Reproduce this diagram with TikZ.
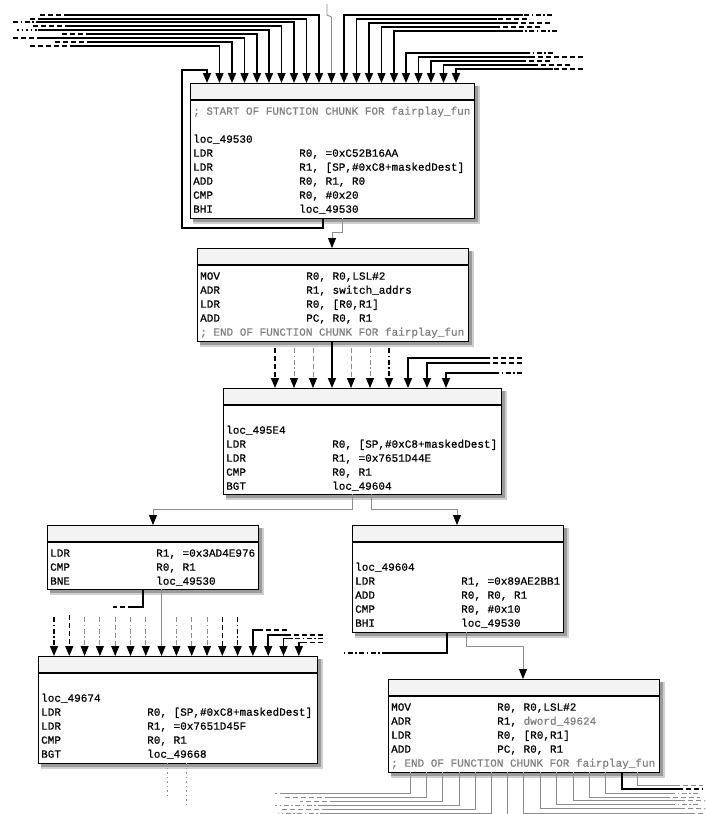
\documentclass[tikz,border=0pt]{standalone}
\usepackage{fontspec}
\setmonofont[FakeBold=0.6]{Liberation Mono}
\usetikzlibrary{arrows.meta}
\definecolor{edgegray}{HTML}{8C8C8C}
\definecolor{hdrgray}{HTML}{F3F3F3}
\definecolor{cmtgray}{HTML}{7F7F7F}
\definecolor{shdA}{HTML}{9A9A9A}
\definecolor{shdB}{HTML}{CFCFCF}
\tikzset{
  blk/.style={draw=black, fill=white, line width=0.8pt, inner sep=0pt, outer sep=0pt, anchor=north west},
  code/.style={font=\ttfamily\fontsize{11}{14}\selectfont, inner sep=0pt, anchor=north west, text=black},
  thk/.style={draw=black, line width=1.6pt},
  thn/.style={draw=edgegray, line width=0.9pt},
  tip/.style={-{Triangle[width=8pt,length=10pt,color=black]}},
  dA/.style={dash pattern=on 5pt off 3pt},
  dB/.style={dash pattern=on 5pt off 2.5pt on 1.5pt off 2.5pt},
  dC/.style={dash pattern=on 1.5pt off 3pt},
}
\newcommand\codebox[6]{%
  \fill[shdB] (#2+3,#3+3) rectangle (#4+6,#5+6);
  \fill[shdA] (#2+3,#3+3) rectangle (#4+4,#5+4);
  \node[blk, minimum width=#4pt-#2pt, minimum height=#5pt-#3pt] (#1) at (#2,#3) {};
  \fill[hdrgray] (#2,#3) rectangle (#4,#6);
  \draw[line width=1.6pt] (#2,#6) -- (#4,#6);
  \draw[line width=0.8pt] (#2,#3) rectangle (#4,#5);
}
\begin{document}
\begin{tikzpicture}[x=1pt,y=-1pt]
\fill[white] (0,0) rectangle (705,814);
\useasboundingbox (0,0) rectangle (705,814);

% ---------- boxes ----------
\codebox{A}{190}{83}{474}{218}{100}
\codebox{B}{197}{248}{468}{341}{265}
\codebox{C}{223}{388}{501}{494}{405}
\codebox{D}{47}{525}{258}{589}{542}
\codebox{E}{352}{525}{563}{632}{542}
\codebox{F}{38}{656}{317}{763}{673}
\codebox{G}{388}{679}{659}{772}{696}

\node[code] (At) at (193,104.7) {\begin{tabular}{@{}p{106pt}@{}l@{}}
\multicolumn{2}{@{}l@{}}{\color{cmtgray}; START OF FUNCTION CHUNK FOR fairplay\_fun}\\
\mbox{}\\
loc\_49530\\
LDR & R0, =0xC52B16AA\\
LDR & R1, [SP,\#0xC8+maskedDest]\\
ADD & R0, R1, R0\\
CMP & R0, \#0x20\\
BHI & loc\_49530
\end{tabular}};

\node[code] (Bt) at (200,269.7) {\begin{tabular}{@{}p{106pt}@{}l@{}}
MOV & R0, R0,LSL\#2\\
ADR & R1, switch\_addrs\\
LDR & R0, [R0,R1]\\
ADD & PC, R0, R1\\
\multicolumn{2}{@{}l@{}}{\color{cmtgray}; END OF FUNCTION CHUNK FOR fairplay\_fun}
\end{tabular}};

\node[code] (Ct) at (226,409.7) {\begin{tabular}{@{}p{106pt}@{}l@{}}
\mbox{}\\
loc\_495E4\\
LDR & R0, [SP,\#0xC8+maskedDest]\\
LDR & R1, =0x7651D44E\\
CMP & R0, R1\\
BGT & loc\_49604
\end{tabular}};

\node[code] (Dt) at (50,546.7) {\begin{tabular}{@{}p{106pt}@{}l@{}}
LDR & R1, =0x3AD4E976\\
CMP & R0, R1\\
BNE & loc\_49530
\end{tabular}};

\node[code] (Et) at (355,546.7) {\begin{tabular}{@{}p{106pt}@{}l@{}}
\mbox{}\\
loc\_49604\\
LDR & R1, =0x89AE2BB1\\
ADD & R0, R0, R1\\
CMP & R0, \#0x10\\
BHI & loc\_49530
\end{tabular}};

\node[code] (Ft) at (41,677.7) {\begin{tabular}{@{}p{106pt}@{}l@{}}
\mbox{}\\
loc\_49674\\
LDR & R0, [SP,\#0xC8+maskedDest]\\
LDR & R1, =0x7651D45F\\
CMP & R0, R1\\
BGT & loc\_49668
\end{tabular}};

\node[code] (Gt) at (391,700.7) {\begin{tabular}{@{}p{106pt}@{}l@{}}
MOV & R0, R0,LSL\#2\\
ADR & R1, {\color{cmtgray}dword\_49624}\\
LDR & R0, [R0,R1]\\
ADD & PC, R0, R1\\
\multicolumn{2}{@{}l@{}}{\color{cmtgray}; END OF FUNCTION CHUNK FOR fairplay\_fun}
\end{tabular}};

% ---------- edges into A ----------
\draw[thk,tip] ([xshift=133pt]A.south west) -- ++(0,10) -| (182,70) -| ([xshift=17pt]A.north west);
\coordinate (topg) at (327,4);
\draw[thn,tip] (topg) -- (327,15) -- (331.5,17) -- (331.5,0 |- A.north);
\foreach \xa/\yy/\xs/\xe/\ds [count=\k] in {219.5/46/70/30/dA, 232/42/90/55/dA, 244.5/38/38/13/dA, 257/34/88/62/dA, 269/30/38/17/dC, 281.5/26/70/33/dA, 294/22/37/13/dB, 306.5/19/38/30/dA, 319/15/67/40/dA}{
  \coordinate (tl\k) at (\xe,\yy);
  \draw[thk,\ds] (tl\k) -- (\xs,\yy);
  \draw[thk,tip] (\xs,\yy) -| (\xa,0 |- A.north);
}
\foreach \xa/\yy/\xs/\xe/\ds [count=\k] in {344/15/523/552/dB, 356.5/19/497/527/dA, 369/23/517/550/dA, 381.5/27/498/540/dA, 394/31/522/557/dB, 406/53/530/553/dB, 418.5/57/530/583/dA, 431/61/523/550/dA, 443.5/65/537/570/dA, 456/69/553/583/dA}{
  \coordinate (tr\k) at (\xe,\yy);
  \draw[thk,\ds] (tr\k) -- (\xs,\yy);
  \draw[thk,tip] (\xs,\yy) -| (\xa,0 |- A.north);
}

% ---------- A -> B ----------
\draw[thn,tip] ([xshift=152pt]A.south west) -- ++(0,14) -| ([xshift=135pt]B.north west);

% ---------- into C ----------
\draw[thk,tip] ([xshift=135pt]B.south west) -- (332,0 |- C.north);
\foreach \xa/\st/\ds [count=\k] in {275/thk/dA, 294/thn/dB, 313/thn/dA, 351/thn/dA, 370/thn/dB, 389/thk/dB}{
  \coordinate (bc\k) at (\xa,348);
  \draw[\st,\ds,tip] (bc\k) -- (\xa,0 |- C.north);
}
\foreach \xa/\yy/\xs/\xe/\ds [count=\k] in {408/358/490/522/dA, 427/363/490/522/dA, 446/373/495/522/dB}{
  \coordinate (cr\k) at (\xe,\yy);
  \draw[thk,\ds] (cr\k) -- (\xs,\yy);
  \draw[thk,tip] (\xs,\yy) -| (\xa,0 |- C.north);
}

% ---------- C -> D, C -> E ----------
\draw[thn,tip] ([xshift=129pt]C.south west) -- ++(0,15) -| ([xshift=106pt]D.north west);
\draw[thn,tip] ([xshift=148pt]C.south west) -- ++(0,15) -| ([xshift=105pt]E.north west);

% ---------- D out ----------
\coordinate (dl) at (113,607);
\draw[thk] ([xshift=96pt]D.south west) |- (133,607);
\draw[thk,dA] (133,607) -- (dl);
\draw[thn,tip] ([xshift=114.5pt]D.south west) -- (161.5,0 |- F.north);

% ---------- into F ----------
\foreach \xa/\yy/\st/\ds [count=\k] in {54/617/thk/dB, 69.3/615/thk/dA, 84.6/617/thn/dB, 99.9/617/thn/dB, 115.2/617/thn/dA, 130.5/617/thn/dB, 145.8/617/thn/dB, 176.4/617/thn/dB, 191.7/617/thn/dA, 207/617/thn/dB, 222.3/617/thk/dA, 237.6/617/thk/dB}{
  \coordinate (fv\k) at (\xa,\yy);
  \draw[\st,\ds,tip] (fv\k) -- (\xa,0 |- F.north);
}
\foreach \xa/\yy/\xs/\xe/\ds [count=\k] in {252.9/630/262/287/dA, 268.2/635/290/323/dA, 283.5/638.5/293/323/dB, 298.8/642.5/305/323/dA}{
  \coordinate (fr\k) at (\xe,\yy);
  \draw[thk,\ds] (fr\k) -- (\xs,\yy);
  \draw[thk,tip] (\xs,\yy) -| (\xa,0 |- F.north);
}

% ---------- E out ----------
\coordinate (el) at (342,653);
\draw[thk] ([xshift=95pt]E.south west) |- (387,653);
\draw[thk,dB] (387,653) -- (el);
\draw[thn,tip] ([xshift=114pt]E.south west) -- ++(0,14) -| ([xshift=135pt]G.north west);

% ---------- F out ----------
\draw[thn,dC] ([xshift=129pt]F.south west) -- ++(0,32) coordinate (fo1);
\draw[thn,dC] ([xshift=148pt]F.south west) -- ++(0,44) coordinate (fo2);

% ---------- G out ----------
\foreach \xa/\yy/\xs/\xe/\ds [count=\k] in {410/793/285/275/dA, 426/797/330/283/dA, 442/801/335/300/dA, 459/805/323/275/dB, 475/809/327/280/dA, 491/813/325/278/dB}{
  \coordinate (gl\k) at (\xe,\yy);
  \draw[thn] (\xa,0 |- G.south) |- (\xs,\yy);
  \draw[thn,\ds] (\xs,\yy) -- (gl\k);
}
\coordinate (gm) at (507,816);
\draw[thn] (507,0 |- G.south) -- (gm);
\foreach \xa/\yy/\xs/\xe/\ds [count=\k] in {523/813/690/705/dA, 540/808/680/705/dA, 556/804/670/700/dB, 573/800/680/705/dA, 589/797/665/700/dA, 605/793/670/700/dB, 637/785/675/703/dA}{
  \coordinate (gr\k) at (\xe,\yy);
  \draw[thn] (\xa,0 |- G.south) |- (\xs,\yy);
  \draw[thn,\ds] (\xs,\yy) -- (gr\k);
}
\coordinate (gk) at (703,789);
\draw[thk] (622,0 |- G.south) |- (678,789);
\draw[thk,dA] (678,789) -- (gk);
\end{tikzpicture}
\end{document}
